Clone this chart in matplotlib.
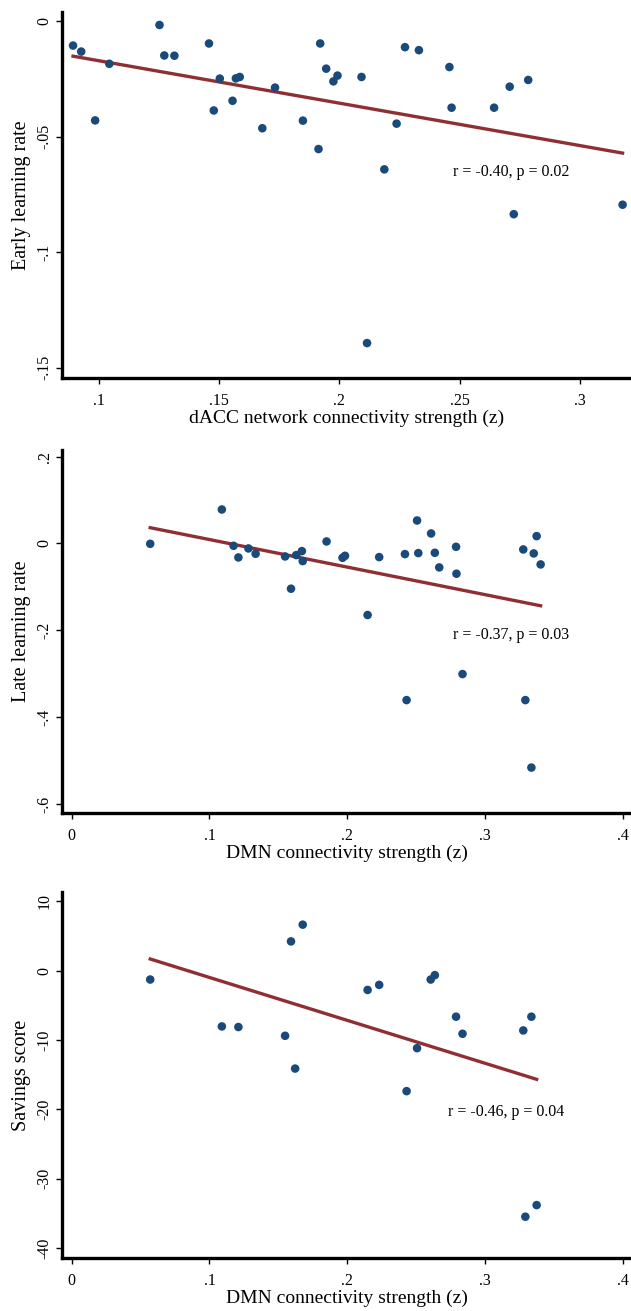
import numpy as np
import matplotlib
matplotlib.use("Agg")
import matplotlib.pyplot as plt

plt.rcParams["font.family"] = ["Liberation Serif", "DejaVu Serif"]

# panel 1: dACC connectivity vs early learning rate
early_x = [0.0891, 0.0925, 0.0983, 0.1042, 0.1251, 0.1271, 0.1313, 0.1457,
           0.1477, 0.1502, 0.1555, 0.1569, 0.1585, 0.1679, 0.1732, 0.1848,
           0.1913, 0.1920, 0.1945, 0.1975, 0.1992, 0.2092, 0.2187, 0.2238,
           0.2273, 0.2331, 0.2458, 0.2467, 0.2644, 0.2709, 0.2786, 0.3179,
           0.2726, 0.2115]
early_y = [-0.0106, -0.0132, -0.0430, -0.0185, -0.0017, -0.0149, -0.0150, -0.0097,
           -0.0387, -0.0249, -0.0345, -0.0248, -0.0242, -0.0464, -0.0288, -0.0431,
           -0.0554, -0.0097, -0.0206, -0.0261, -0.0236, -0.0242, -0.0642, -0.0444,
           -0.0113, -0.0126, -0.0199, -0.0375, -0.0375, -0.0284, -0.0255, -0.0795,
           -0.0836, -0.1394]

# panel 2: DMN connectivity vs late learning rate
late_x = [0.0570, 0.1090, 0.1175, 0.1210, 0.1283, 0.1335, 0.1549, 0.1592,
          0.1630, 0.1671, 0.1677, 0.1850, 0.1966, 0.1984, 0.2148, 0.2232,
          0.2419, 0.2507, 0.2516, 0.2609, 0.2636, 0.2668, 0.2790, 0.2793,
          0.3278, 0.3354, 0.3375, 0.3404, 0.2837, 0.2431, 0.3293, 0.3337]
late_y = [-0.0008, 0.0782, -0.0054, -0.0322, -0.0115, -0.0238, -0.0299, -0.1042,
          -0.0268, -0.0176, -0.0406, 0.0046, -0.0330, -0.0284, -0.1648, -0.0314,
          -0.0245, 0.0529, -0.0222, 0.0230, -0.0215, -0.0552, -0.0077, -0.0697,
          -0.0138, -0.0230, 0.0169, -0.0483, -0.3008, -0.3608, -0.3608, -0.5162]

# panel 3: DMN connectivity vs savings score
sav_x = [0.0570, 0.1090, 0.1210, 0.1549, 0.1592, 0.1677, 0.1622, 0.2148,
         0.2232, 0.2507, 0.2606, 0.2636, 0.2790, 0.2837, 0.3278, 0.3337,
         0.2431, 0.3293, 0.3375]
sav_y = [-1.30, -8.05, -8.14, -9.40, 4.19, 6.60, -14.12, -2.80,
         -2.07, -11.18, -1.30, -0.67, -6.65, -9.11, -8.63, -6.65,
         -17.37, -35.45, -33.78]

panels = [
    dict(x=early_x, y=early_y,
         xlabel="dACC network connectivity strength (z)",
         ylabel="Early learning rate",
         xticks=[0.1, 0.15, 0.2, 0.25, 0.3],
         xticklabels=[".1", ".15", ".2", ".25", ".3"],
         yticks=[0, -0.05, -0.1, -0.15],
         yticklabels=["0", "-.05", "-.1", "-.15"],
         xlim=(0.0847, 0.3214), ylim=(-0.1545, 0.0039),
         note="r = -0.40, p = 0.02", note_xy=(0.2472, -0.0655),
         box=(0.0990, 0.7117, 0.9010, 0.2791)),
    dict(x=late_x, y=late_y,
         xlabel="DMN connectivity strength (z)",
         ylabel="Late learning rate",
         xticks=[0, 0.1, 0.2, 0.3, 0.4],
         xticklabels=["0", ".1", ".2", ".3", ".4"],
         yticks=[0.2, 0, -0.2, -0.4, -0.6],
         yticklabels=[".2", "0", "-.2", "-.4", "-.6"],
         xlim=(-0.0067, 0.406), ylim=(-0.6207, 0.2154),
         note="r = -0.37, p = 0.03", note_xy=(0.2767, -0.211),
         box=(0.0990, 0.3799, 0.9010, 0.2769)),
    dict(x=sav_x, y=sav_y,
         xlabel="DMN connectivity strength (z)",
         ylabel="Savings score",
         xticks=[0, 0.1, 0.2, 0.3, 0.4],
         xticklabels=["0", ".1", ".2", ".3", ".4"],
         yticks=[10, 0, -10, -20, -30, -40],
         yticklabels=["10", "0", "-10", "-20", "-30", "-40"],
         xlim=(-0.0067, 0.406), ylim=(-41.4, 11.34),
         note="r = -0.46, p = 0.04", note_xy=(0.2729, -20.4),
         box=(0.0990, 0.0404, 0.9010, 0.2794)),
]

DOT = "#1a4a7a"
FIT = "#8f2f33"

fig = plt.figure(figsize=(6.31, 13.11), dpi=100)

for p in panels:
    ax = fig.add_axes(p["box"])
    x = np.array(p["x"])
    y = np.array(p["y"])
    ax.scatter(x, y, s=38, color=DOT, edgecolors="none", zorder=3)
    # least-squares fit line over the observed x range
    slope, icpt = np.polyfit(x, y, 1)
    xs = np.array([x.min(), x.max()])
    ax.plot(xs, icpt + slope * xs, color=FIT, lw=2.4, zorder=2)

    ax.set_xlim(*p["xlim"])
    ax.set_ylim(*p["ylim"])
    ax.set_xticks(p["xticks"])
    ax.set_xticklabels(p["xticklabels"])
    ax.set_yticks(p["yticks"])
    ax.set_yticklabels(p["yticklabels"], rotation=90, va="center")
    ax.tick_params(labelsize=11.5, length=4, width=1)
    ax.tick_params(axis="x", pad=7)
    ax.tick_params(axis="y", pad=3)
    ax.set_xlabel(p["xlabel"], fontsize=14, labelpad=0)
    ax.set_ylabel(p["ylabel"], fontsize=14.5, labelpad=4)
    for side in ("top", "right"):
        ax.spines[side].set_visible(False)
    for side in ("left", "bottom"):
        ax.spines[side].set_linewidth(2.4)
    ax.text(*p["note_xy"], p["note"], fontsize=11.5, va="center", ha="left")

fig.savefig("out.png", dpi=100, facecolor="white")
